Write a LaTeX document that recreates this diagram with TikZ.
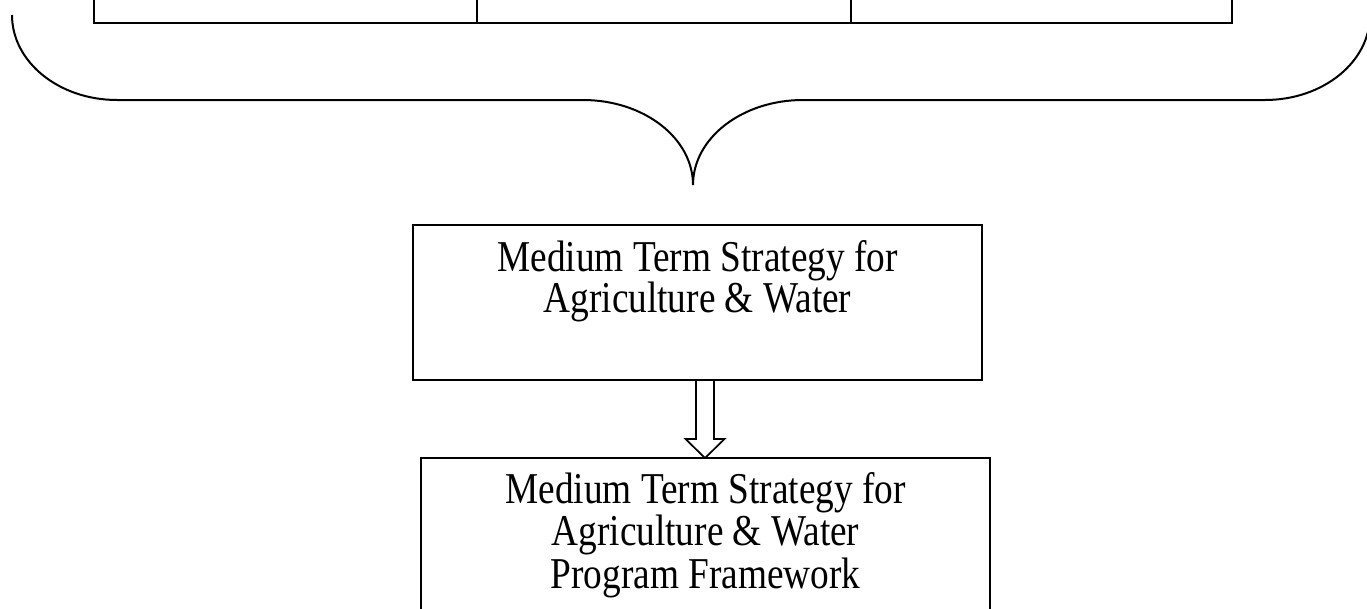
\documentclass[tikz,border=0pt]{standalone}
\usepackage{graphicx}
\usepackage{fontspec}
\setmainfont{Liberation Serif}
\usetikzlibrary{calc}
\newcommand{\tallline}[1]{\scalebox{1}[1.18]{#1}}
\begin{document}
\begin{tikzpicture}[x=1pt,y=-1pt,
  frame/.style={draw=black,line width=2pt,inner sep=0pt,outer sep=0pt},
  cell/.style={draw=black,line width=2.6pt,inner sep=0pt,outer sep=0pt},
  label/.style={font=\fontsize{37.3}{42}\selectfont,inner sep=0pt,anchor=base},
  brace/.style={draw=black,line width=2pt},
  hollow/.style={draw=black,line width=1.7pt,line join=miter}]
\clip (0,0) rectangle (1367,608);
\fill[white] (0,0) rectangle (1367,608);

% row of three table cells, running off the top edge
\node[cell,minimum width=383,minimum height=100] (c1) at (285.5,-27) {};
\node[cell,minimum width=374,minimum height=100] (c2) at (664,-27) {};
\node[cell,minimum width=381,minimum height=100] (c3) at (1041.5,-27) {};

% curly brace gathering the cells
\draw[brace] (12,15) .. controls (12,62) and (59,100) .. (117,100)
  -- (583,100) .. controls (643.8,100) and (693,138) .. (693,185)
  .. controls (693,138) and (742.2,100) .. (803,100)
  -- (1265,100) .. controls (1323,100) and (1370,62) .. (1370,15)
  -- (1370,-10);

% strategy box
\node[frame,minimum width=569,minimum height=155] (b1) at (697.5,302) {};
\node[label] (t1a) at (697.5,271) {\tallline{Medium Term Strategy for}};
\node[label] (t1b) at (697.5,312) {\tallline{Agriculture \& Water}};

% framework box
\node[frame,minimum width=569,minimum height=200] (b2) at (705.5,558) {};
\node[label] (t2a) at (705.5,503) {\tallline{Medium Term Strategy for}};
\node[label] (t2b) at (705.5,545) {\tallline{Agriculture \& Water}};
\node[label] (t2c) at (705.5,588) {\tallline{Program Framework}};

% hollow block arrow between the boxes
\coordinate (ax) at (705,0);
\coordinate (as) at (b1.south -| ax);
\coordinate (ae) at (b2.north -| ax);
\draw[hollow] ($(as)+(-9,0)$) -- ($(ae)+(-9,-19)$) -- ($(ae)+(-19.5,-19)$)
  -- (ae) -- ($(ae)+(19.5,-19)$) -- ($(ae)+(9,-19)$) -- ($(as)+(9,0)$);
\end{tikzpicture}
\end{document}
